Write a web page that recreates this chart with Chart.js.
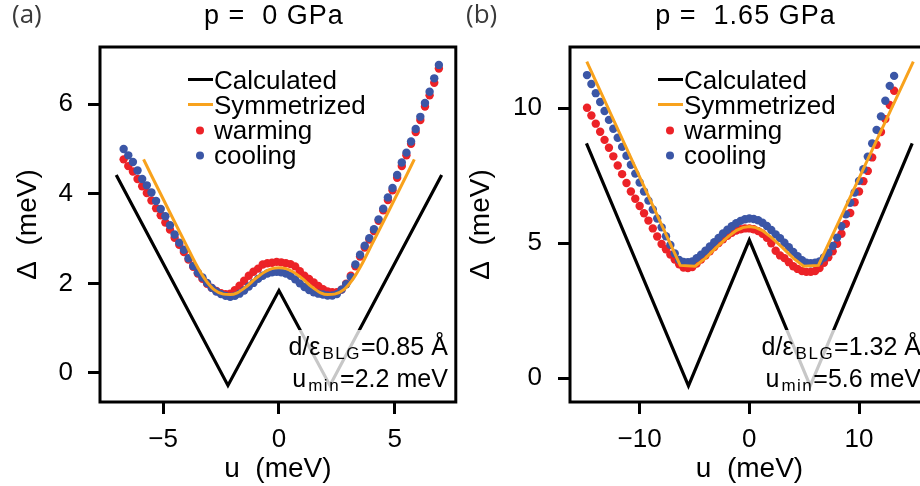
<!DOCTYPE html>
<html>
<head>
<meta charset="utf-8">
<script src="https://cdn.jsdelivr.net/npm/chart.js@4.4.1/dist/chart.umd.min.js"></script>
<style>
  html, body { margin: 0; padding: 0; background: #fff; overflow: hidden; }
  #wrap { position: relative; width: 920px; height: 486px; overflow: hidden; }
  canvas { position: absolute; top: 0; }
  #cA { left: 0; }
  #cB { left: 460px; }
</style>
</head>
<body>
<div id="wrap">
  <canvas id="cA" width="460" height="486"></canvas>
  <canvas id="cB" width="480" height="486"></canvas>
</div>
<script>
// ---- panel (a): p = 0 GPa ----
const uA = [-6.7,-6.5,-6.3,-6.1,-5.9,-5.7,-5.5,-5.3,-5.1,-4.9,
  -4.7,-4.5,-4.3,-4.1,-3.9,-3.7,-3.5,-3.3,-3.1,-2.9,
  -2.7,-2.5,-2.3,-2.1,-1.9,-1.7,-1.5,-1.3,-1.1,-0.9,
  -0.7,-0.5,-0.3,-0.1,0.1,0.3,0.5,0.7,0.9,1.1,
  1.3,1.5,1.7,1.9,2.1,2.3,2.5,2.7,2.9,3.1,
  3.3,3.5,3.7,3.9,4.1,4.3,4.5,4.7,4.9,5.1,
  5.3,5.5,5.7,5.9,6.1,6.3,6.5,6.7,6.9];
const coolingA = [5.00,4.86,4.71,4.52,4.33,4.19,4.03,3.84,3.66,3.50,
  3.30,3.09,2.91,2.75,2.56,2.39,2.24,2.13,2.01,1.90,
  1.82,1.76,1.72,1.70,1.72,1.77,1.84,1.93,2.01,2.10,
  2.17,2.22,2.25,2.26,2.25,2.22,2.17,2.09,2.00,1.92,
  1.85,1.80,1.77,1.75,1.73,1.73,1.76,1.86,1.98,2.14,
  2.42,2.64,2.84,3.01,3.21,3.43,3.67,3.92,4.13,4.42,
  4.70,4.92,5.17,5.45,5.72,6.03,6.28,6.58,6.88];
const warmingA = [4.77,4.62,4.50,4.33,4.17,4.02,3.85,3.68,3.52,3.36,
  3.20,3.02,2.86,2.70,2.53,2.37,2.22,2.10,1.99,1.90,
  1.83,1.78,1.76,1.77,1.85,1.95,2.06,2.17,2.26,2.33,
  2.42,2.45,2.46,2.48,2.47,2.45,2.43,2.38,2.27,2.17,
  2.10,2.02,1.94,1.87,1.82,1.80,1.80,1.86,1.99,2.17,
  2.38,2.60,2.80,2.98,3.17,3.40,3.63,3.86,4.08,4.36,
  4.62,4.86,5.12,5.38,5.65,5.95,6.20,6.48,6.80];
const symUA = [-5.84,-5.5,-5.0,-4.5,-4.0,-3.6,-3.2,-2.8,-2.4,-2.1,-1.8,-1.4,-1.0,-0.6,-0.3,0,
  0.3,0.6,1.0,1.4,1.8,2.1,2.4,2.8,3.2,3.6,4.0,4.5,5.0,5.5,5.84];
const symA = [4.77,4.41,3.89,3.37,2.86,2.45,2.10,1.86,1.76,1.75,1.79,1.93,2.11,2.26,2.33,2.35,
  2.33,2.26,2.11,1.93,1.79,1.75,1.76,1.86,2.10,2.45,2.86,3.37,3.89,4.41,4.77];
const calcUA = [-7.02, -2.2, 0, 2.2, 7.02];
const calcA = [4.42, -0.28, 1.84, -0.28, 4.42];
const xTicksA = [-5, 0, 5];
const yTicksA = [0, 2, 4, 6];

// ---- panel (b): p = 1.65 GPa ----
const uB = [-14.8,-14.4,-14.0,-13.6,-13.2,-12.8,-12.4,-12.0,-11.6,-11.2,
  -10.8,-10.4,-10.0,-9.6,-9.2,-8.8,-8.4,-8.0,-7.6,-7.2,
  -6.8,-6.4,-6.0,-5.6,-5.2,-4.8,-4.4,-4.0,-3.6,-3.2,
  -2.8,-2.4,-2.0,-1.6,-1.2,-0.8,-0.4,0.0,0.4,0.8,
  1.2,1.6,2.0,2.4,2.8,3.2,3.6,4.0,4.4,4.8,
  5.2,5.6,6.0,6.4,6.8,7.2,7.6,8.0,8.4,8.8,
  9.2,9.6,10.0,10.4,10.8,11.2,11.6,12.0,12.4,12.8,
  13.2];
const coolingB = [11.23,10.90,10.56,10.23,9.90,9.57,9.24,8.91,8.57,8.24,
  7.91,7.58,7.25,6.92,6.58,6.25,5.92,5.59,5.26,4.94,
  4.62,4.38,4.31,4.30,4.33,4.45,4.58,4.72,4.88,5.04,
  5.20,5.36,5.50,5.63,5.74,5.83,5.89,5.92,5.90,5.85,
  5.76,5.64,5.49,5.33,5.19,5.02,4.85,4.68,4.52,4.37,
  4.28,4.26,4.28,4.33,4.47,4.65,4.90,5.21,5.63,6.07,
  6.50,6.88,7.31,7.74,8.21,8.70,9.20,9.70,10.28,10.83,
  11.20];
const warmingB = [10.02,9.73,9.43,9.13,8.83,8.54,8.22,7.88,7.56,7.23,
  6.92,6.65,6.38,6.11,5.84,5.55,5.25,4.97,4.78,4.58,
  4.40,4.22,4.10,4.08,4.12,4.25,4.40,4.55,4.70,4.86,
  5.01,5.15,5.28,5.39,5.47,5.52,5.55,5.55,5.52,5.45,
  5.35,5.20,5.00,4.72,4.55,4.45,4.30,4.15,4.05,3.97,
  3.94,3.94,3.97,4.08,4.28,4.48,4.70,4.98,5.35,5.72,
  6.12,6.52,6.92,7.30,7.68,8.18,8.65,9.12,9.60,10.12,
  10.65];
const symUB = [-14.82,-6.3,-4.95,-4.0,-3.0,-2.0,-1.2,-0.6,0,0.6,1.2,2.0,3.0,4.0,4.95,6.3,14.95];
const symB = [11.73,4.18,4.15,4.45,4.85,5.22,5.47,5.58,5.62,5.58,5.47,5.22,4.85,4.45,4.15,4.18,11.73];
const calcUB = [-14.85, -5.55, 0, 5.55, 14.85];
const calcB = [8.70, -0.28, 5.12, -0.28, 8.70];
const xTicksB = [-10, 0, 10];
const yTicksB = [0, 5, 10];

const legendOrder = ['Calculated', 'Symmetrized', 'warming', 'cooling'];

const FONT = "'Liberation Sans', Arial, Helvetica, sans-serif";
const RED = '#ec2227';
const BLUE = '#3b56a6';
const ORANGE = '#f8a21c';

const pts = (xs, ys) => xs.map((x, i) => ({ x, y: ys[i] }));

// legend, note box, frame, titles
const decor = {
  id: 'decor',
  afterDatasetsDraw(chart, args, o) {
    const { ctx, chartArea: a } = chart;
    ctx.save();

    // note box (semi transparent, greys the line under it)
    const big = '25px ' + FONT, small = '17px ' + FONT;
    const widths = o.notes.map(p => {
      ctx.letterSpacing = '0px';
      ctx.font = big;
      const w0 = ctx.measureText(p[0]).width, w2 = ctx.measureText(p[2]).width;
      ctx.font = small;
      ctx.letterSpacing = '1.5px';
      const w1 = ctx.measureText(p[1]).width;
      return [w0, w1 + 2, w2];
    });
    ctx.letterSpacing = '0px';
    const maxW = Math.max(...widths.map(w => w[0] + w[1] + w[2]));
    const right = a.right - 8;
    ctx.fillStyle = 'rgba(255,255,255,0.78)';
    ctx.fillRect(right - maxW - 5, a.bottom - 72, maxW + 11, 69);
    ctx.fillStyle = '#000';
    ctx.textBaseline = 'alphabetic';
    ctx.textAlign = 'left';
    o.notes.forEach((p, i) => {
      const w = widths[i];
      const base = a.bottom - 47 + i * 32;
      let x = right - (w[0] + w[1] + w[2]);
      ctx.font = big; ctx.fillText(p[0], x, base); x += w[0] + 2;
      ctx.font = small; ctx.letterSpacing = '1.5px'; ctx.fillText(p[1], x, base + 4); x += w[1] - 2;
      ctx.letterSpacing = '0px';
      ctx.font = big; ctx.fillText(p[2], x, base);
    });

    // legend inside the axes
    const lx = a.left + 88;
    ctx.font = '26px ' + FONT;
    legendOrder.forEach((name, i) => {
      const ds = chart.data.datasets.find(d => d.label === name);
      const base = a.top + 41.5 + i * 25;
      if (ds.showLine) {
        ctx.strokeStyle = ds.borderColor;
        ctx.lineWidth = 3;
        ctx.beginPath();
        ctx.moveTo(lx, base - 9);
        ctx.lineTo(lx + 25, base - 9);
        ctx.stroke();
      } else {
        ctx.fillStyle = ds.backgroundColor;
        ctx.beginPath();
        ctx.arc(lx + 12, base - 8, 4, 0, Math.PI * 2);
        ctx.fill();
      }
      ctx.fillStyle = '#000';
      ctx.fillText(name, lx + 26, base);
    });

    // frame
    ctx.strokeStyle = '#000';
    ctx.lineWidth = 3;
    ctx.strokeRect(a.left, a.top, a.right - a.left, a.bottom - a.top);

    // title and panel label
    ctx.textAlign = 'center';
    ctx.font = '27px ' + FONT;
    ctx.letterSpacing = '1px';
    ctx.fillText(o.title, (a.left + a.right) / 2 - 4, 24);
    ctx.letterSpacing = '0px';
    ctx.textAlign = 'left';
    ctx.fillStyle = '#3a3a3a';
    ctx.font = "26px 'Open Sans', " + FONT;
    ctx.fillText(o.panel, o.panelX, 23);
    ctx.restore();
  }
};

function makePanel(id, cfg) {
  const tickFont = { family: FONT, size: 26 };
  const titleFont = { family: FONT, size: 28 };
  const minus = v => String(v).replace('-', '\u2212');
  return new Chart(document.getElementById(id).getContext('2d'), {
    type: 'scatter',
    data: {
      datasets: [
        { label: 'Calculated', data: pts(cfg.calcU, cfg.calc), showLine: true, borderColor: '#000',
          borderWidth: 3.2, borderJoinStyle: 'miter', pointRadius: 0, order: 0 },
        { label: 'Symmetrized', data: pts(cfg.symU, cfg.sym), showLine: true, borderColor: ORANGE,
          borderWidth: 3, pointRadius: 0, cubicInterpolationMode: cfg.smooth ? 'monotone' : 'default', order: 1 },
        { label: 'warming', data: pts(cfg.u, cfg.warming), showLine: false, backgroundColor: RED,
          borderWidth: 0, pointRadius: 4.2, order: 3 },
        { label: 'cooling', data: pts(cfg.u, cfg.cooling), showLine: false, backgroundColor: BLUE,
          borderWidth: 0, pointRadius: 4.2, order: 2 }
      ]
    },
    options: {
      responsive: false,
      animation: false,
      layout: { padding: { top: 47, right: cfg.padRight, left: 0, bottom: 0 } },
      plugins: {
        legend: { display: false },
        tooltip: { enabled: false },
        decor: { title: cfg.title, panel: cfg.panel, panelX: cfg.panelX, notes: cfg.notes }
      },
      scales: {
        x: {
          type: 'linear', min: cfg.xMin, max: cfg.xMax,
          afterBuildTicks: s => { s.ticks = cfg.xTicks.map(v => ({ value: v })); },
          afterFit: s => { s.height = 84; },
          grid: { drawOnChartArea: false, drawTicks: true, tickLength: 12, tickWidth: 3, tickColor: '#000' },
          border: { display: false },
          ticks: { font: tickFont, color: '#000', padding: 10, maxRotation: 0, callback: minus },
          title: { display: true, text: 'u  (meV)', font: titleFont, color: '#000', padding: { top: 0, bottom: 0 } }
        },
        y: {
          type: 'linear', min: cfg.yMin, max: cfg.yMax,
          afterBuildTicks: s => { s.ticks = cfg.yTicks.map(v => ({ value: v })); },
          afterFit: s => { s.width = cfg.yWidth; },
          grid: { drawOnChartArea: false, drawTicks: true, tickLength: 12, tickWidth: 3, tickColor: '#000' },
          border: { display: false },
          ticks: { font: tickFont, color: '#000', padding: cfg.yPad, callback: minus },
          title: { display: true, text: '\u0394  (meV)', font: titleFont, color: '#000', padding: { top: cfg.yTitlePad, bottom: 0 } }
        }
      }
    },
    plugins: [decor]
  });
}

makePanel('cA', {
  u: uA, cooling: coolingA, warming: warmingA, symU: symUA, sym: symA, calcU: calcUA, calc: calcA,
  smooth: true, xMin: -7.72, xMax: 7.63, yMin: -0.65, yMax: 7.28, xTicks: xTicksA, yTicks: yTicksA,
  padRight: 4, yWidth: 100, yPad: 15, yTitlePad: 11,
  title: 'p =  0 GPa', panel: '(a)', panelX: 12,
  notes: [['d/\u03b5', 'BLG', '=0.85 \u00c5'], ['u', 'min', '=2.2 meV']]
});

makePanel('cB', {
  u: uB, cooling: coolingB, warming: warmingB, symU: symUB, sym: symB, calcU: calcUB, calc: calcB,
  smooth: false, xMin: -16.35, xMax: 16.38, yMin: -0.88, yMax: 12.27, xTicks: xTicksB, yTicks: yTicksB,
  padRight: 11, yWidth: 110, yPad: 16, yTitlePad: 4,
  title: 'p =  1.65 GPa', panel: '(b)', panelX: 6,
  notes: [['d/\u03b5', 'BLG', '=1.32 \u00c5'], ['u', 'min', '=5.6 meV']]
});
</script>
</body>
</html>
